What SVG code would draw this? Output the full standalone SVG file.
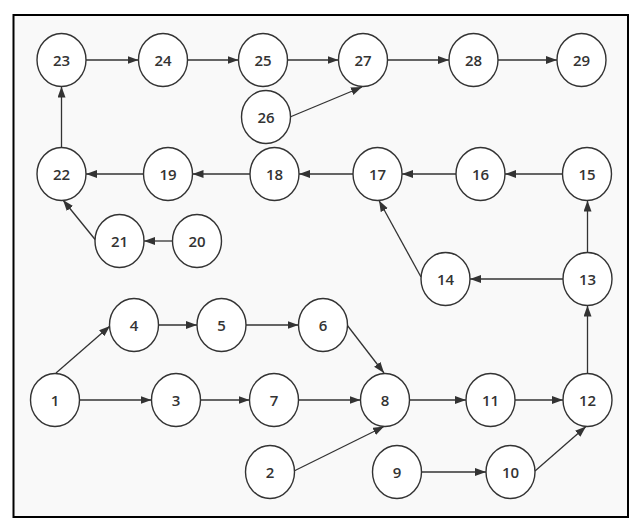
<svg xmlns="http://www.w3.org/2000/svg" width="633" height="529" viewBox="0 0 633 529">
<defs>
<marker id="ah" markerUnits="userSpaceOnUse" markerWidth="12" markerHeight="10" refX="11" refY="4" orient="auto">
<path d="M0,0 L11,4 L0,8 Z" fill="#333"/>
</marker>
<style>
.n ellipse{fill:#fff;stroke:#333;stroke-width:1.4}
.n text{font-family:"Open Sans","Noto Sans",sans-serif;font-weight:600;font-size:15px;fill:#333;text-anchor:middle;dominant-baseline:central}
#edges line{stroke:#333;stroke-width:1.3;marker-end:url(#ah)}
</style>
</defs>
<rect x="0" y="0" width="633" height="529" fill="#fff"/>
<rect x="13.5" y="15" width="614.5" height="502" fill="#f9f9f9" stroke="#000" stroke-width="2"/>
<g id="edges">
<line x1="86" y1="60" x2="138.5" y2="60"/>
<line x1="187.5" y1="60" x2="238.5" y2="60"/>
<line x1="287.5" y1="60" x2="338.5" y2="60"/>
<line x1="387.5" y1="60" x2="449" y2="60"/>
<line x1="498" y1="60" x2="557" y2="60"/>
<line x1="290" y1="117" x2="362" y2="87"/>
<line x1="61.5" y1="147.5" x2="61.5" y2="86.5"/>
<line x1="143.5" y1="174" x2="86" y2="174"/>
<line x1="250" y1="174" x2="192.5" y2="174"/>
<line x1="353" y1="174" x2="299" y2="174"/>
<line x1="456" y1="174" x2="402" y2="174"/>
<line x1="562.5" y1="174" x2="505" y2="174"/>
<line x1="95.5" y1="240" x2="63" y2="200"/>
<line x1="172.5" y1="241" x2="144" y2="241"/>
<line x1="421" y1="277" x2="379" y2="200.5"/>
<line x1="563" y1="279" x2="470" y2="279"/>
<line x1="587.5" y1="252.5" x2="587.5" y2="200.5"/>
<line x1="587.5" y1="373.5" x2="587.5" y2="305.5"/>
<line x1="56" y1="373" x2="110" y2="326"/>
<line x1="158.5" y1="325" x2="197" y2="325"/>
<line x1="246" y1="325" x2="298.5" y2="325"/>
<line x1="347" y1="325" x2="384" y2="373"/>
<line x1="79.5" y1="400" x2="151.5" y2="400"/>
<line x1="200.5" y1="400" x2="249.5" y2="400"/>
<line x1="298.5" y1="400" x2="360.5" y2="400"/>
<line x1="409.5" y1="400" x2="466" y2="400"/>
<line x1="515" y1="400" x2="563" y2="400"/>
<line x1="294" y1="471" x2="384" y2="426.5"/>
<line x1="421.5" y1="472" x2="486" y2="472"/>
<line x1="535" y1="471" x2="586" y2="426.5"/>
</g>
<g id="n23" class="n"><ellipse cx="61.5" cy="60" rx="24.5" ry="26.5"/><text x="61.5" y="60">23</text></g>
<g id="n24" class="n"><ellipse cx="163" cy="60" rx="24.5" ry="26.5"/><text x="163" y="60">24</text></g>
<g id="n25" class="n"><ellipse cx="263" cy="60" rx="24.5" ry="26.5"/><text x="263" y="60">25</text></g>
<g id="n27" class="n"><ellipse cx="363" cy="60" rx="24.5" ry="26.5"/><text x="363" y="60">27</text></g>
<g id="n28" class="n"><ellipse cx="473.5" cy="60" rx="24.5" ry="26.5"/><text x="473.5" y="60">28</text></g>
<g id="n29" class="n"><ellipse cx="581.5" cy="60" rx="24.5" ry="26.5"/><text x="581.5" y="60">29</text></g>
<g id="n26" class="n"><ellipse cx="266" cy="117" rx="24.5" ry="26.5"/><text x="266" y="117">26</text></g>
<g id="n22" class="n"><ellipse cx="61.5" cy="174" rx="24.5" ry="26.5"/><text x="61.5" y="174">22</text></g>
<g id="n19" class="n"><ellipse cx="168" cy="174" rx="24.5" ry="26.5"/><text x="168" y="174">19</text></g>
<g id="n18" class="n"><ellipse cx="274.5" cy="174" rx="24.5" ry="26.5"/><text x="274.5" y="174">18</text></g>
<g id="n17" class="n"><ellipse cx="377.5" cy="174" rx="24.5" ry="26.5"/><text x="377.5" y="174">17</text></g>
<g id="n16" class="n"><ellipse cx="480.5" cy="174" rx="24.5" ry="26.5"/><text x="480.5" y="174">16</text></g>
<g id="n15" class="n"><ellipse cx="587" cy="174" rx="24.5" ry="26.5"/><text x="587" y="174">15</text></g>
<g id="n21" class="n"><ellipse cx="119.5" cy="241" rx="24.5" ry="26.5"/><text x="119.5" y="241">21</text></g>
<g id="n20" class="n"><ellipse cx="197" cy="241" rx="24.5" ry="26.5"/><text x="197" y="241">20</text></g>
<g id="n14" class="n"><ellipse cx="445.5" cy="279" rx="24.5" ry="26.5"/><text x="445.5" y="279">14</text></g>
<g id="n13" class="n"><ellipse cx="587.5" cy="279" rx="24.5" ry="26.5"/><text x="587.5" y="279">13</text></g>
<g id="n4" class="n"><ellipse cx="134" cy="325" rx="24.5" ry="26.5"/><text x="134" y="325">4</text></g>
<g id="n5" class="n"><ellipse cx="221.5" cy="325" rx="24.5" ry="26.5"/><text x="221.5" y="325">5</text></g>
<g id="n6" class="n"><ellipse cx="323" cy="325" rx="24.5" ry="26.5"/><text x="323" y="325">6</text></g>
<g id="n1" class="n"><ellipse cx="55" cy="400" rx="24.5" ry="26.5"/><text x="55" y="400">1</text></g>
<g id="n3" class="n"><ellipse cx="176" cy="400" rx="24.5" ry="26.5"/><text x="176" y="400">3</text></g>
<g id="n7" class="n"><ellipse cx="274" cy="400" rx="24.5" ry="26.5"/><text x="274" y="400">7</text></g>
<g id="n8" class="n"><ellipse cx="385" cy="400" rx="24.5" ry="26.5"/><text x="385" y="400">8</text></g>
<g id="n11" class="n"><ellipse cx="490.5" cy="400" rx="24.5" ry="26.5"/><text x="490.5" y="400">11</text></g>
<g id="n12" class="n"><ellipse cx="587.5" cy="400" rx="24.5" ry="26.5"/><text x="587.5" y="400">12</text></g>
<g id="n2" class="n"><ellipse cx="270" cy="472" rx="24.5" ry="26.5"/><text x="270" y="472">2</text></g>
<g id="n9" class="n"><ellipse cx="397" cy="472" rx="24.5" ry="26.5"/><text x="397" y="472">9</text></g>
<g id="n10" class="n"><ellipse cx="510.5" cy="472" rx="24.5" ry="26.5"/><text x="510.5" y="472">10</text></g>
</svg>
